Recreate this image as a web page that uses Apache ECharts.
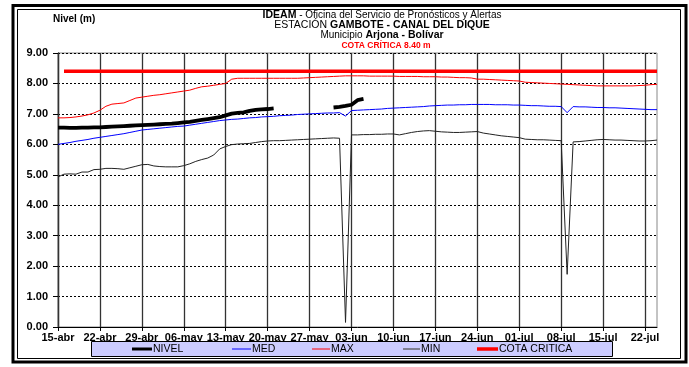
<!DOCTYPE html>
<html><head><meta charset="utf-8">
<script src="https://cdn.jsdelivr.net/npm/echarts@6/dist/echarts.min.js"></script>
<style>html,body{margin:0;padding:0;background:#fff}#c{width:689px;height:367px}</style>
</head><body><div id="c"></div>
<script>
// category dates: 15-abr .. 24-jul (daily)
const monthSpans = [['abr',15,30],['may',1,31],['jun',1,30],['jul',1,24]];
const dates = [];
monthSpans.forEach(([m,a,b]) => { for (let d=a; d<=b; d++) dates.push(String(d).padStart(2,'0') + '-' + m); });

const nivel = [6.55,6.55,6.54,6.54,6.55,6.55,6.56,6.56,6.57,6.58,
6.59,6.60,6.61,6.62,6.63,6.64,6.65,6.66,6.67,6.68,
6.70,6.72,6.74,6.77,6.80,6.83,6.86,6.89,6.95,7.01,
7.03,7.05,7.10,7.13,7.15,7.16,7.18,null,null,null,
null,null,null,null,null,null,7.21,7.23,7.26,7.30,
7.45,7.49];

const med = [6.00,6.03,6.06,6.10,6.13,6.16,6.20,6.23,6.26,6.29,
6.32,6.35,6.39,6.43,6.47,6.49,6.51,6.53,6.55,6.57,
6.59,6.60,6.63,6.66,6.69,6.72,6.75,6.78,6.80,6.82,
6.83,6.85,6.87,6.88,6.90,6.91,6.92,6.94,6.95,6.96,
6.98,6.99,7.00,7.01,7.02,7.03,7.03,7.04,6.93,7.11,
7.12,7.13,7.14,7.15,7.16,7.18,7.19,7.20,7.21,7.22,
7.23,7.24,7.26,7.27,7.28,7.29,7.29,7.30,7.30,7.31,
7.31,7.31,7.31,7.30,7.30,7.30,7.29,7.29,7.28,7.27,
7.27,7.26,7.25,7.25,7.24,7.04,7.24,7.23,7.23,7.22,
7.21,7.21,7.20,7.20,7.19,7.18,7.17,7.16,7.15,7.14,
7.14];

const max = [6.87,6.87,6.88,6.90,6.93,6.97,7.03,7.12,7.25,7.32,
7.34,7.36,7.44,7.52,7.55,7.58,7.61,7.63,7.66,7.69,
7.72,7.75,7.78,7.84,7.89,7.91,7.94,7.97,8.00,8.14,
8.17,8.17,8.17,8.17,8.17,8.17,8.17,8.17,8.17,8.17,
8.17,8.18,8.19,8.20,8.21,8.22,8.23,8.24,8.25,8.25,
8.25,8.25,8.24,8.24,8.24,8.24,8.24,8.23,8.23,8.23,
8.23,8.22,8.22,8.22,8.21,8.21,8.20,8.19,8.19,8.18,
8.14,8.14,8.13,8.12,8.11,8.10,8.09,8.08,8.04,8.03,
8.02,8.01,8.00,7.99,7.98,7.97,7.96,7.95,7.94,7.93,
7.92,7.92,7.92,7.92,7.92,7.92,7.92,7.93,7.94,7.96,
7.97];

const min = [4.93,5.02,5.03,5.02,5.09,5.09,5.17,5.18,5.21,5.21,
5.20,5.18,5.23,5.28,5.33,5.34,5.29,5.27,5.26,5.26,
5.26,5.30,5.36,5.44,5.50,5.55,5.65,5.85,5.93,5.99,
6.01,6.02,6.03,6.06,6.09,6.11,6.12,6.12,6.13,6.14,
6.15,6.16,6.17,6.18,6.19,6.20,6.21,6.20,0.15,6.31,
6.31,6.32,6.32,6.33,6.33,6.34,6.34,6.31,6.35,6.39,
6.42,6.44,6.45,6.43,6.41,6.40,6.39,6.39,6.40,6.41,
6.42,6.37,6.34,6.31,6.28,6.26,6.24,6.22,6.17,6.16,
6.15,6.15,6.14,6.13,6.12,1.73,6.08,6.09,6.11,6.13,
6.15,6.16,6.15,6.14,6.14,6.13,6.12,6.11,6.11,6.12,
6.14];

const cotaCritica = 8.40;
const cota = dates.map((d, i) => i === 0 ? null : cotaCritica);

const FONT = 'Liberation Sans, Arial, sans-serif';

function lineSeries(name, data, color, width, z) {
  return { name, type: 'line', data, symbol: 'none', showSymbol: false, color,
    itemStyle: { color }, lineStyle: { color, width }, z, animation: false, connectNulls: false };
}

// legend drawn as graphic: [label, lineStart, lineEnd, color, width, textX]
const legendDefs = [
  ['NIVEL', 132, 152, '#000000', 3, 153],
  ['MED', 232, 251, '#0000ff', 1, 252],
  ['MAX', 312, 330, '#ff0000', 1, 331],
  ['MIN', 403, 420, '#555555', 1.3, 421],
  ['COTA CRITICA', 477, 498, '#ff0000', 3.5, 499]
];
const legendGraphics = [];
legendDefs.forEach(([name, x1, x2, color, w, tx]) => {
  legendGraphics.push({ type: 'line', z: 6, shape: { x1, y1: 349, x2, y2: 349 }, style: { stroke: color, lineWidth: w } });
  legendGraphics.push({ type: 'text', z: 6, style: { x: tx, y: 349.5, text: name, fontFamily: FONT, fontSize: 10.5, fill: '#000', verticalAlign: 'middle' } });
});

const chart = echarts.init(document.getElementById('c'), null, { renderer: 'canvas' });
chart.setOption({
  animation: false,
  backgroundColor: '#fff',
  grid: { left: 58, right: 32, top: 53, bottom: 40, show: true, borderColor: '#888', borderWidth: 1 },
  xAxis: {
    type: 'category', data: dates, boundaryGap: false,
    axisLine: { lineStyle: { color: '#000', width: 1 } },
    axisTick: { interval: 6, length: 4, lineStyle: { color: '#000' } },
    axisLabel: { interval: 6, fontFamily: FONT, fontSize: 11, fontWeight: 'bold', color: '#000', margin: 5 },
    splitLine: { show: true, interval: 6, lineStyle: { color: '#333', width: 1.3 } }
  },
  yAxis: {
    type: 'value', min: 0, max: 9, interval: 1,
    axisLine: { show: true, lineStyle: { color: '#333', width: 1.3 } },
    axisTick: { show: true, length: 5, lineStyle: { color: '#000' } },
    axisLabel: { formatter: v => v.toFixed(2), fontFamily: FONT, fontSize: 11, fontWeight: 'bold', color: '#000', margin: 10 },
    splitLine: { lineStyle: { color: '#000', width: 1, type: [2, 2] } }
  },
  series: [
    lineSeries('MED', med, '#0000ff', 1, 3),
    lineSeries('MAX', max, '#ff0000', 1, 3),
    lineSeries('MIN', min, '#222222', 1, 3),
    lineSeries('COTA CRITICA', cota, '#ff0000', 3.5, 4),
    lineSeries('NIVEL', nivel, '#000000', 3.8, 5)
  ],
  graphic: [
    { type: 'rect', z: 0, shape: { x: 13, y: 5.5, width: 673, height: 356.5 }, style: { fill: 'none', stroke: '#000', lineWidth: 3 } },
    { type: 'rect', z: 0, shape: { x: 17.5, y: 9.5, width: 663, height: 349 }, style: { fill: 'none', stroke: '#000', lineWidth: 1 } },
    { type: 'rect', z: 1, shape: { x: 91.5, y: 341.5, width: 521, height: 15 }, style: { fill: '#ccccff', stroke: '#000', lineWidth: 1 } },
    ...legendGraphics,
    { type: 'text', z: 5, style: { x: 53, y: 19, text: 'Nivel (m)', fontFamily: FONT, fontSize: 10, fontWeight: 'bold', fill: '#000', verticalAlign: 'middle' } },
    { type: 'text', z: 5, style: { x: 382, y: 15, text: '{b|IDEAM} - Oficina del Servicio de Pronósticos y Alertas', align: 'center', verticalAlign: 'middle',
        fontFamily: FONT, fontSize: 10, fill: '#000', rich: { b: { fontFamily: FONT, fontSize: 10.5, fontWeight: 'bold', fill: '#000' } } } },
    { type: 'text', z: 5, style: { x: 382, y: 25.5, text: 'ESTACIÓN {b|GAMBOTE - CANAL DEL DIQUE}', align: 'center', verticalAlign: 'middle',
        fontFamily: FONT, fontSize: 10.5, fill: '#000', rich: { b: { fontFamily: FONT, fontSize: 10.5, fontWeight: 'bold', fill: '#000' } } } },
    { type: 'text', z: 5, style: { x: 382, y: 35.5, text: 'Municipio {b|Arjona - Bolívar}', align: 'center', verticalAlign: 'middle',
        fontFamily: FONT, fontSize: 10, fill: '#000', rich: { b: { fontFamily: FONT, fontSize: 10.5, fontWeight: 'bold', fill: '#000' } } } },
    { type: 'text', z: 5, style: { x: 386, y: 45.5, text: 'COTA CRÍTICA 8.40 m', align: 'center', verticalAlign: 'middle',
        fontFamily: FONT, fontSize: 8.5, fontWeight: 'bold', fill: '#ff0000' } }
  ]
});
</script>
</body></html>
